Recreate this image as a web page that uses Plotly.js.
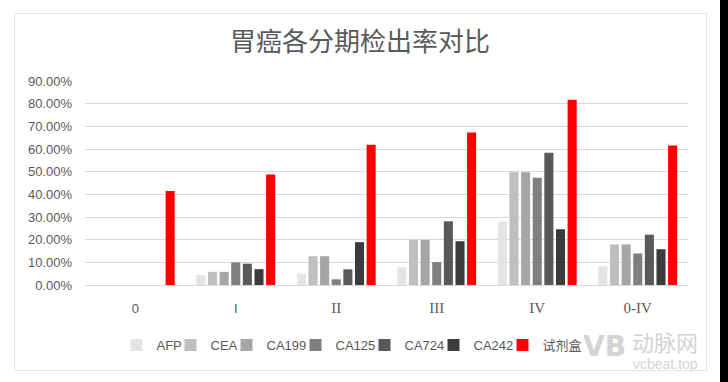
<!DOCTYPE html>
<html>
<head>
<meta charset="utf-8">
<script src="https://cdn.plot.ly/plotly-3.0.1.min.js"></script>
<style>
  html, body { margin: 0; padding: 0; background: #000; }
  #wrap { position: relative; width: 728px; height: 382px; background: #000; overflow: hidden; }
  #chart { position: absolute; left: 0; top: 0; width: 720px; height: 382px; background: #fff; }
  #frame { position: absolute; left: 14px; top: 13px; width: 691px; height: 356px; border: 1px solid #e3e3e3; pointer-events: none; }
</style>
</head>
<body>
<div id="wrap">
  <div id="chart"></div>
  <div id="frame"></div>
</div>
<script>
const categories = ["0", "I", "II", "III", "IV", "0-IV"];
const categoryLabels = [
  '<span style="font-family:Liberation Sans;font-size:13px">0</span>',
  '<span style="font-family:Liberation Sans;font-size:13px">I</span>',
  "II", "III", "IV", "0-IV"
];
const afp    = [0, 0.044, 0.050, 0.078, 0.281, 0.083];
const cea    = [0, 0.058, 0.127, 0.199, 0.497, 0.179];
const ca199  = [0, 0.058, 0.127, 0.199, 0.497, 0.179];
const ca125  = [0, 0.100, 0.025, 0.101, 0.473, 0.139];
const ca724  = [0, 0.094, 0.069, 0.281, 0.584, 0.222];
const ca242  = [0, 0.070, 0.189, 0.193, 0.246, 0.158];
const kit    = [0.415, 0.487, 0.619, 0.673, 0.817, 0.615];
const seriesNames = ["AFP", "CEA", "CA199", "CA125", "CA724", "CA242", "试剂盒"];
const seriesColors = ["#e4e4e4", "#bfbfbf", "#a6a6a6", "#7f7f7f", "#595959", "#3c3c3c", "#ff0000"];
const yTicks = [0, 0.1, 0.2, 0.3, 0.4, 0.5, 0.6, 0.7, 0.8, 0.9];

// legend entry box left edges (figure pixels)
const legendLeftPx = [116.5, 170.5, 226.5, 295.5, 364.5, 433.5, 502.5];

const M = { l: 85, r: 32, t: 81, b: 97 };
const plotW = 720 - M.l - M.r;
const plotH = 382 - M.t - M.b;
const px2x = p => (p - M.l) / plotW;
const px2y = p => (382 - M.b - p) / plotH;

const allValues = [afp, cea, ca199, ca125, ca724, ca242, kit];
const traces = allValues.map((vals, i) => ({
  type: "bar",
  name: seriesNames[i],
  x: categories,
  y: vals,
  marker: { color: seriesColors[i] },
  legend: i === 0 ? "legend" : "legend" + (i + 1),
  hoverinfo: "skip"
}));

const layout = {
  width: 720,
  height: 382,
  paper_bgcolor: "#ffffff",
  plot_bgcolor: "#ffffff",
  margin: M,
  title: {
    text: "胃癌各分期检出率对比",
    x: 0.5,
    xref: "container",
    xanchor: "center",
    y: 1 - 42 / 382,
    yref: "container",
    yanchor: "middle",
    font: { family: "Noto Sans CJK SC", size: 26, color: "#595959" }
  },
  barmode: "group",
  bargap: 0.19,
  bargroupgap: 0.22,
  showlegend: true,
  xaxis: {
    type: "category",
    tickvals: categories,
    ticktext: categoryLabels,
    showgrid: false,
    showline: false,
    zeroline: false,
    ticks: "",
    ticklabelstandoff: 12,
    tickfont: { family: "Liberation Serif", size: 15, color: "#595959" }
  },
  yaxis: {
    range: [0, 0.9],
    tickvals: yTicks,
    tickformat: ".2%",
    showgrid: true,
    gridcolor: "#d9d9d9",
    gridwidth: 1,
    zeroline: true,
    zerolinecolor: "#d9d9d9",
    zerolinewidth: 1,
    showline: false,
    ticks: "",
    ticklabelstandoff: 12,
    tickfont: { family: "Liberation Sans", size: 13, color: "#595959" }
  },
  annotations: [
    { text: "<b>VB</b>", xref: "paper", yref: "paper", x: px2x(604), y: px2y(346),
      showarrow: false, font: { family: "DejaVu Sans", size: 28, color: "#d4d4d4" }, xanchor: "center", yanchor: "middle" },
    { text: "动脉网", xref: "paper", yref: "paper", x: px2x(665), y: px2y(341),
      showarrow: false, font: { family: "Noto Sans CJK SC", size: 22, color: "#d4d4d4" }, xanchor: "center", yanchor: "middle" },
    { text: "vcbeat.top", xref: "paper", yref: "paper", x: px2x(665), y: px2y(364),
      showarrow: false, font: { family: "Liberation Sans", size: 14, color: "#d4d4d4" }, xanchor: "center", yanchor: "middle" }
  ]
};

seriesNames.forEach((n, i) => {
  const key = i === 0 ? "legend" : "legend" + (i + 1);
  layout[key] = {
    orientation: "h",
    x: px2x(legendLeftPx[i]),
    xanchor: "left",
    y: px2y(345),
    yanchor: "middle",
    bgcolor: "rgba(0,0,0,0)",
    font: { family: "Liberation Sans, Noto Sans CJK SC", size: 13, color: "#595959" },
    itemwidth: 30
  };
});

Plotly.newPlot("chart", traces, layout, { displayModeBar: false, staticPlot: true });
</script>
</body>
</html>
